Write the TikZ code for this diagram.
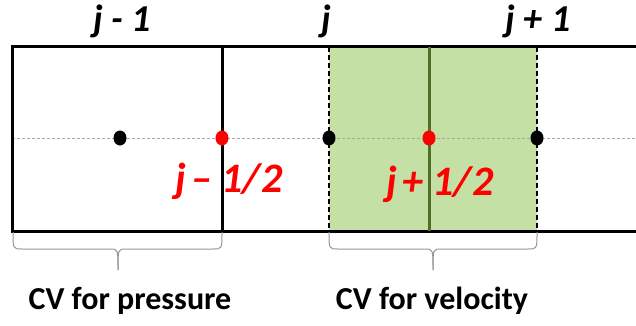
\documentclass[tikz,border=0pt]{standalone}
\usepackage{fontspec}
\setmainfont{Carlito}
\definecolor{cvgreen}{RGB}{197,224,165}
\definecolor{darkgreen}{RGB}{79,110,40}
\definecolor{dotred}{RGB}{255,0,0}
\definecolor{bracegray}{RGB}{150,150,150}
\tikzset{
  wall/.style={line width=3pt, black},
  dot/.style={ellipse, minimum width=13pt, minimum height=15pt, inner sep=0pt, fill=#1},
  toplabel/.style={anchor=base, font=\fontsize{38}{40}\selectfont\bfseries\itshape},
  redlabel/.style={anchor=base, text=dotred, font=\fontsize{42}{44}\selectfont\bfseries\itshape},
  cvlabel/.style={anchor=base, font=\fontsize{32}{34}\selectfont\bfseries},
  bracepath/.style={bracegray, line width=1pt},
  axisline/.style={gray!70, line width=0.8pt, dash pattern=on 3pt off 2pt},
}
\usetikzlibrary{shapes.geometric}
\newcommand{\tsp}{\hspace{0.12em}}
\newcommand{\msp}{\hspace{0.22em}}
\begin{document}
\begin{tikzpicture}[x=1pt, y=-1pt]
\useasboundingbox (0,0) rectangle (636,326);
% green control volume
\fill[cvgreen] (329,47) rectangle (537,231);
% centreline
\draw[axisline] (12,138) -- (636,138);
% walls
\draw[wall] (636,47) -- (12,47) -- (12,231) -- (636,231);
\draw[wall] (222,47) -- (222,231);
\draw[darkgreen, line width=3pt] (429,47) -- (429,231);
\draw[black, line width=1.3pt, dash pattern=on 5pt off 3pt] (329,47) -- (329,231);
\draw[black, line width=1.3pt, dash pattern=on 5pt off 3pt] (537,47) -- (537,231);
% dots
\node[dot=black] (p1) at (120,138) {};
\node[dot=dotred] (u1) at (222,138) {};
\node[dot=black] (p2) at (329,138) {};
\node[dot=dotred] (u2) at (429,138) {};
\node[dot=black] (p3) at (537,138) {};
% labels
\node[toplabel] (l1) at (122,32) {j - 1};
\node[toplabel] (l2) at (326,32) {j};
\node[toplabel] (l3) at (538,32) {j + 1};
\node[redlabel] (r1) at (229,192) {j\tsp–\msp1/2};
\node[redlabel] (r2) at (440,195) {j\tsp+\msp1/2};
% braces
\coordinate (a1) at (13,232);
\coordinate (a2) at (222,232);
\coordinate (at) at (118,270);
\draw[bracepath] (a1) .. controls (13,249) .. (22,249) -- (110,249) .. controls (118,249) .. (at);
\draw[bracepath] (a2) .. controls (222,249) .. (213,249) -- (126,249) .. controls (118,249) .. (at);
\coordinate (b1) at (329,232);
\coordinate (b2) at (537,232);
\coordinate (bt) at (433,270);
\draw[bracepath] (b1) .. controls (329,249) .. (338,249) -- (425,249) .. controls (433,249) .. (bt);
\draw[bracepath] (b2) .. controls (537,249) .. (528,249) -- (441,249) .. controls (433,249) .. (bt);
\node[cvlabel] (c1) at (130,309) {CV for pressure};
\node[cvlabel] (c2) at (432,309) {CV for velocity};
\end{tikzpicture}
\end{document}
